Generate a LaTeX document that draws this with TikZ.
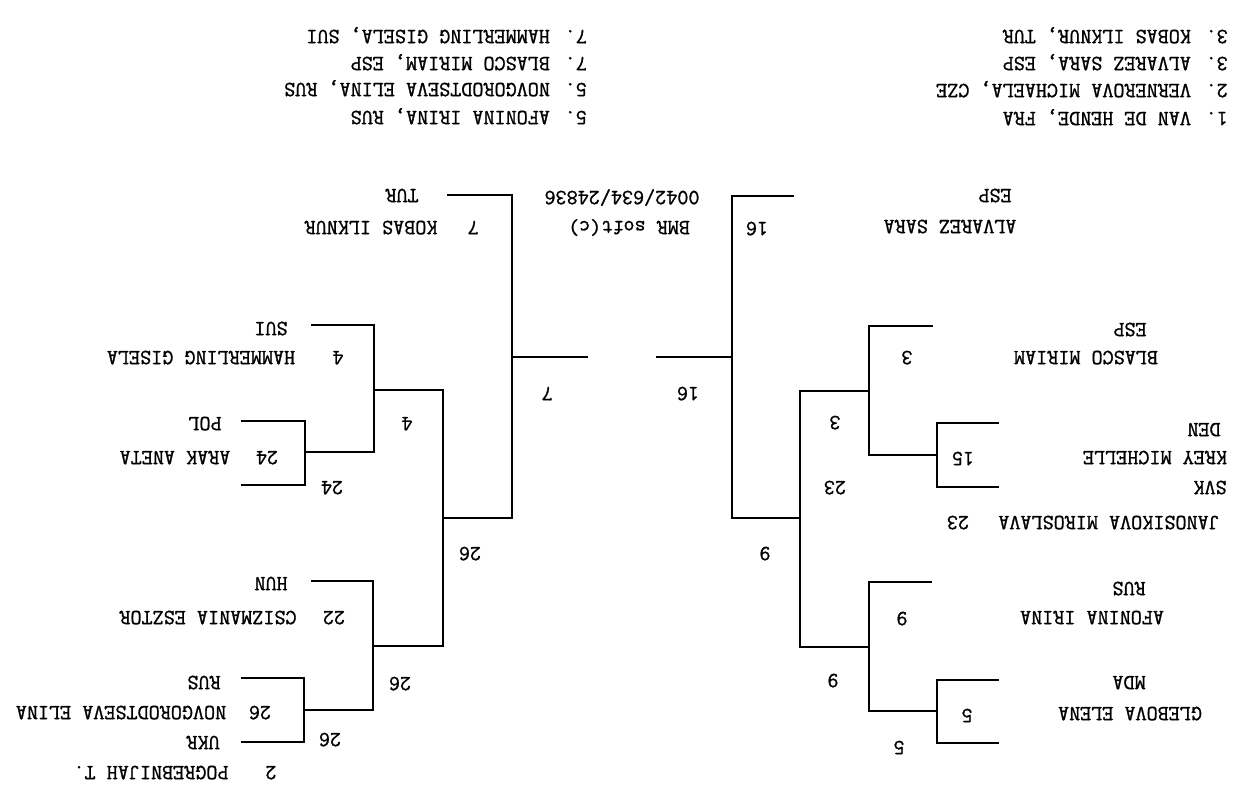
\documentclass[tikz,border=0pt]{standalone}
\usepackage{fontspec}
\newfontfamily\brfont[FakeBold=1.2]{Latin Modern Mono}
\begin{document}
\begin{tikzpicture}[x=1pt,y=-1pt,
  txt/.style={font=\brfont\fontsize{21.5}{21.5}\selectfont, rotate=180, inner sep=0pt, anchor=base},
  lst/.style={txt, anchor=base west},
  br/.style={line width=1.3pt, line cap=rect}]
\useasboundingbox (0,0) rectangle (1239,810);
\fill[white] (0,0) rectangle (1239,810);

% ---- final standings lists ----
\node[lst] (l1) at (587,30) {7. HAMMERLING GISELA, SUI};
\node[lst] (l2) at (587,57) {7. BLASCO MIRIAM, ESP};
\node[lst] (l3) at (587,83) {5. NOVGORODTSEVA ELINA, RUS};
\node[lst] (l4) at (587,111) {5. AFONINA IRINA, RUS};
\node[lst] (r1) at (1228,30) {3. KOBAS ILKNUR, TUR};
\node[lst] (r2) at (1228,57) {3. ALVAREZ SARA, ESP};
\node[lst] (r3) at (1228,84) {2. VERNEROVA MICHAELA, CZE};
\node[lst] (r4) at (1228,112) {1. VAN DE HENDE, FRA};

% ---- centre ----
\node[txt] (code) at (622,191) {0042/634/24836};
\node[txt] (bmr) at (629,221) {BMR soft(c)};
\node[txt] (s7a) at (473,221) {7};
\node[txt] (s16a) at (757,222) {16};
\node[txt] (tur) at (402,189) {TUR};
\node[txt] (kobas) at (371,221) {KOBAS ILKNUR};
\node[txt] (espA) at (995,189) {ESP};
\node[txt] (alvarez) at (950,220) {ALVAREZ SARA};
\node[txt] (f7) at (547,387) {7};
\node[txt] (f16) at (688,387) {16};

% ---- left half ----
\node[txt] (sui) at (271,322) {SUI};
\node[txt] (hamm) at (201,351) {HAMMERLING GISELA};
\node[txt] (s4a) at (338,351) {4};
\node[txt] (s4b) at (407,417) {4};
\node[txt] (pol) at (205,417) {POL};
\node[txt] (arak) at (175,451) {ARAK ANETA};
\node[txt] (s24a) at (267,451) {24};
\node[txt] (s24b) at (332,481) {24};
\node[txt] (hun) at (271,577) {HUN};
\node[txt] (s22) at (334,611) {22};
\node[txt] (csiz) at (208,611) {CSIZMANIA ESZTOR};
\node[txt] (s26a) at (400,677) {26};
\node[txt] (rusL) at (204,676) {RUS};
\node[txt] (s26b) at (260,706) {26};
\node[txt] (novg) at (121,706) {NOVGORODTSEVA ELINA};
\node[txt] (ukr) at (203,736) {UKR};
\node[txt] (s26c) at (330,733) {26};
\node[txt] (s2) at (271,766) {2};
\node[txt] (pogr) at (151,766) {POGREBNIJAH T.};
\node[txt] (s26d) at (470,547) {26};

% ---- right half ----
\node[txt] (espB) at (1130,323) {ESP};
\node[txt] (blasco) at (1086,351) {BLASCO MIRIAM};
\node[txt] (s3a) at (907,351) {3};
\node[txt] (s3b) at (835,416) {3};
\node[txt] (den) at (1204,423) {DEN};
\node[txt] (krey) at (1155,451) {KREY MICHELLE};
\node[txt] (s15) at (963,452) {15};
\node[txt] (svk) at (1210,481) {SVK};
\node[txt] (s23a) at (835,481) {23};
\node[txt] (jano) at (1109,516) {JANOSIKOVA MIROSLAVA};
\node[txt] (s23b) at (958,516) {23};
\node[txt] (s9a) at (765,547) {9};
\node[txt] (rusR) at (1129,582) {RUS};
\node[txt] (afon) at (1092,611) {AFONINA IRINA};
\node[txt] (s9b) at (902,612) {9};
\node[txt] (s9c) at (833,674) {9};
\node[txt] (mda) at (1129,676) {MDA};
\node[txt] (gleb) at (1130,707) {GLEBOVA ELENA};
\node[txt] (s5a) at (967,709) {5};
\node[txt] (s5b) at (899,741) {5};

% ---- bracket lines, left ----
\draw[br] (242,421) -- (305,421) -- (305,485) -- (242,485);
\draw[br] (305,452) -- (374,452);
\draw[br] (312,325) -- (374,325) -- (374,452);
\draw[br] (374,390) -- (443,390);
\draw[br] (242,678) -- (304,678) -- (304,742) -- (242,742);
\draw[br] (304,710) -- (373,710);
\draw[br] (312,581) -- (373,581) -- (373,710);
\draw[br] (373,646) -- (443,646);
\draw[br] (443,390) -- (443,646);
\draw[br] (443,518) -- (512,518);
\draw[br] (448,195) -- (512,195) -- (512,518);
\draw[br] (512,357) -- (587,357);

% ---- bracket lines, right ----
\draw[br] (998,423) -- (937,423) -- (937,487) -- (998,487);
\draw[br] (937,455) -- (869,455);
\draw[br] (932,326) -- (869,326) -- (869,455);
\draw[br] (869,391) -- (800,391);
\draw[br] (998,680) -- (937,680) -- (937,743) -- (998,743);
\draw[br] (937,711) -- (869,711);
\draw[br] (931,582) -- (869,582) -- (869,711);
\draw[br] (869,647) -- (800,647);
\draw[br] (800,391) -- (800,647);
\draw[br] (800,518) -- (732,518);
\draw[br] (793,196) -- (732,196) -- (732,518);
\draw[br] (732,357) -- (657,357);
\end{tikzpicture}
\end{document}
